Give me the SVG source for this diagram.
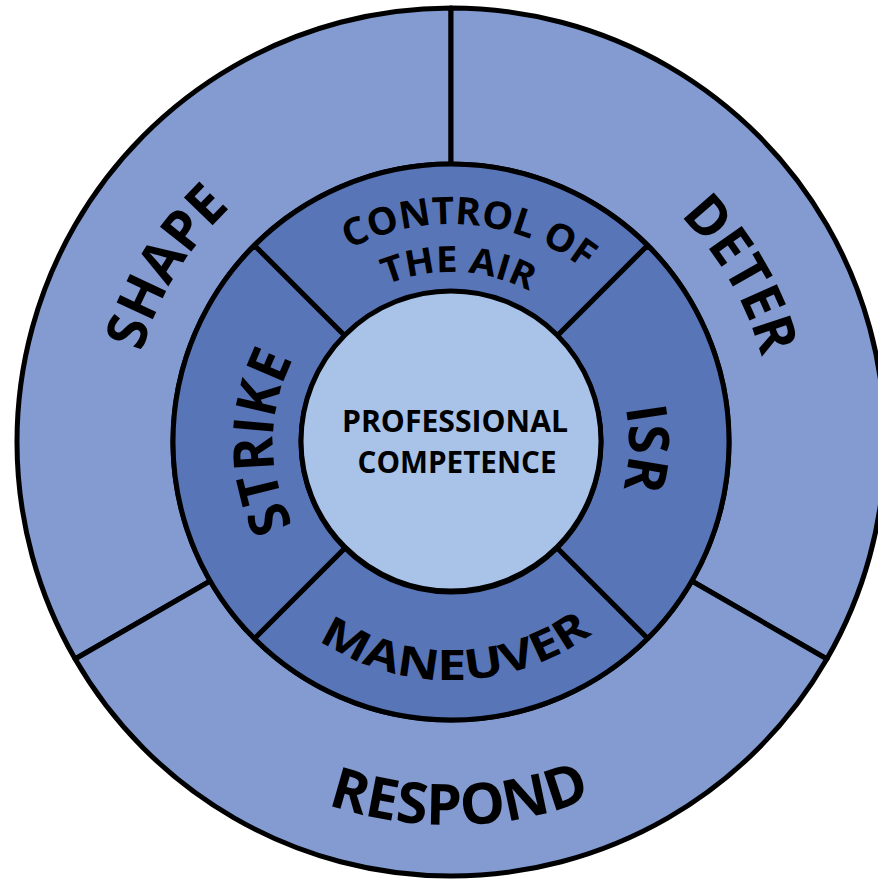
<svg xmlns="http://www.w3.org/2000/svg" xmlns:xlink="http://www.w3.org/1999/xlink" width="878" height="883" viewBox="0 0 878 883">
<style>
.outer{fill:#839BD1;stroke:#000;stroke-width:5;stroke-linejoin:round}
.mid{fill:#5875B8;stroke:#000;stroke-width:5;stroke-linejoin:round}
.core{fill:#A9C2E7;stroke:#000;stroke-width:5}
.lbl{font-family:"Open Sans","Liberation Sans",sans-serif;font-weight:700;fill:#000}
</style>
<defs>
<path id="pControl" d="M240.43,385.58 A218,218 0 0 1 668.17,423.00"/>
<path id="pAir" d="M285.03,405.21 A170,170 0 0 1 619.54,419.81"/>
<path id="pShape" d="M237.64,683.17 A322,322 0 0 1 569.01,142.40"/>
<path id="pDeter" d="M340.87,139.42 A322,322 0 0 1 657.98,688.66"/>
<path id="pStrike" d="M420.09,617.30 A178,178 0 0 1 420.09,266.70"/>
<path id="pIsr" d="M488.01,267.89 A178,178 0 0 1 475.77,618.27"/>
<path id="pMan" d="M217.61,488.64 A238,238 0 0 0 686.26,478.00"/>
<path id="pResp" d="M75.49,517.37 A383,383 0 0 0 829.64,499.60"/>
</defs>
<rect width="878" height="883" fill="#fff"/>
<g id="shape">
<path class="outer" d="M75.14,659 A434,434 0 0 1 451,8 L451,164 A278,278 0 0 0 210.25,581 Z"/>
<text class="lbl" font-size="56" text-anchor="middle"><textPath xlink:href="#pShape" href="#pShape" startOffset="50%" textLength="172" lengthAdjust="spacingAndGlyphs">SHAPE</textPath></text>
</g>
<g id="deter">
<path class="outer" d="M451,8 A434,434 0 0 1 826.86,659 L691.75,581 A278,278 0 0 0 451,164 Z"/>
<text class="lbl" font-size="56" text-anchor="middle"><textPath xlink:href="#pDeter" href="#pDeter" startOffset="50%" textLength="165" lengthAdjust="spacingAndGlyphs">DETER</textPath></text>
</g>
<g id="respond">
<path class="outer" d="M826.86,659 A434,434 0 0 1 75.14,659 L210.25,581 A278,278 0 0 0 691.75,581 Z"/>
<text class="lbl" font-size="57" text-anchor="middle"><textPath xlink:href="#pResp" href="#pResp" startOffset="50%" textLength="270" lengthAdjust="spacingAndGlyphs">RESPOND</textPath></text>
</g>
<g id="control-of-the-air">
<path class="mid" d="M254.42,245.42 A278,278 0 0 1 647.58,245.42 L557.07,335.93 A150,150 0 0 0 344.93,335.93 Z"/>
<text class="lbl" font-size="38" text-anchor="middle"><textPath xlink:href="#pControl" href="#pControl" startOffset="50%" textLength="250" lengthAdjust="spacingAndGlyphs">CONTROL OF</textPath></text>
<text class="lbl" font-size="36" text-anchor="middle"><textPath xlink:href="#pAir" href="#pAir" startOffset="50%" textLength="148" lengthAdjust="spacingAndGlyphs">THE AIR</textPath></text>
</g>
<g id="isr">
<path class="mid" d="M647.58,245.42 A278,278 0 0 1 647.58,638.58 L557.07,548.07 A150,150 0 0 0 557.07,335.93 Z"/>
<text class="lbl" font-size="56" text-anchor="middle"><textPath xlink:href="#pIsr" href="#pIsr" startOffset="50%" textLength="82" lengthAdjust="spacingAndGlyphs">ISR</textPath></text>
</g>
<g id="maneuver">
<path class="mid" d="M647.58,638.58 A278,278 0 0 1 254.42,638.58 L344.93,548.07 A150,150 0 0 0 557.07,548.07 Z"/>
<text class="lbl" font-size="42" text-anchor="middle"><textPath xlink:href="#pMan" href="#pMan" startOffset="50%" textLength="292" lengthAdjust="spacingAndGlyphs">MANEUVER</textPath></text>
</g>
<g id="strike">
<path class="mid" d="M254.42,638.58 A278,278 0 0 1 254.42,245.42 L344.93,335.93 A150,150 0 0 0 344.93,548.07 Z"/>
<text class="lbl" font-size="56" text-anchor="middle"><textPath xlink:href="#pStrike" href="#pStrike" startOffset="50%" textLength="172" lengthAdjust="spacingAndGlyphs">STRIKE</textPath></text>
</g>
<g id="professional-competence">
<circle class="core" cx="451" cy="441" r="150"/>
<text class="lbl" font-size="31" text-anchor="middle" x="455" y="432" textLength="226" lengthAdjust="spacingAndGlyphs">PROFESSIONAL</text>
<text class="lbl" font-size="31" text-anchor="middle" x="457" y="473" textLength="199" lengthAdjust="spacingAndGlyphs">COMPETENCE</text>
</g>
<g id="connectors"></g>
</svg>
